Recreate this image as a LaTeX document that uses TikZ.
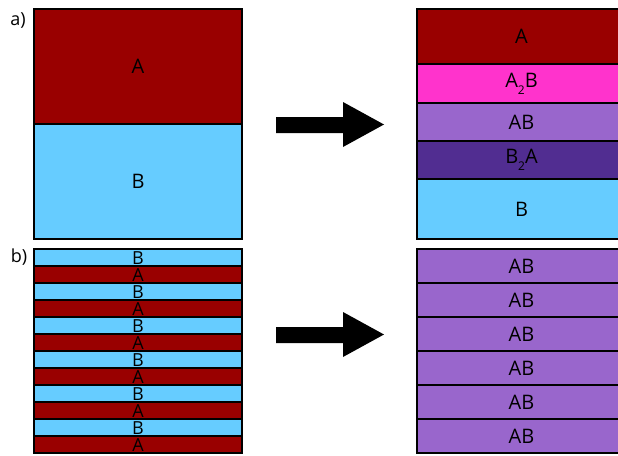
\documentclass[tikz,border=0pt]{standalone}
\usepackage{fontspec}
\setmainfont{Open Sans}
\definecolor{cA}{HTML}{990000}
\definecolor{cB}{HTML}{66CCFF}
\definecolor{cAAB}{HTML}{FF33CC}
\definecolor{cAB}{HTML}{9966CC}
\definecolor{cBBA}{HTML}{512D91}
\newcommand{\subtwo}{\raisebox{-0.35em}{\fontsize{12}{12}\selectfont 2}}
\tikzset{
  layer/.style={draw=black, line width=1.6pt},
  big/.style={font=\fontsize{20}{20}\selectfont, inner sep=0pt},
  small/.style={font=\fontsize{18}{18}\selectfont, inner sep=0pt},
  lab/.style={font=\fontsize{18}{18}\selectfont, inner sep=0pt},
  bigarrow/.style={fill=black, draw=none}
}
\begin{document}
\begin{tikzpicture}[x=1pt,y=-1pt]
\useasboundingbox (0,0) rectangle (618,455);
\clip (0,0) rectangle (618,455);
% labels
\node[lab] (la) at (18,20) {a)};
\node[lab] (lb) at (19,257) {b)};
% panel a left
\draw[layer, fill=cA] (34,9) rectangle (242,124) node[midway, big] (aA) {A};
\draw[layer, fill=cB] (34,124) rectangle (242,239) node[midway, big] (aB) {B};
% panel a right
\draw[layer, fill=cA] (417,9) rectangle (640,64) node[midway, big, xshift=-7pt] (rA) {A};
\draw[layer, fill=cAAB] (417,64) rectangle (640,103) node[midway, big, xshift=-7pt] (rAAB) {A\subtwo B};
\draw[layer, fill=cAB] (417,103) rectangle (640,141) node[midway, big, xshift=-7pt] (rAB) {AB};
\draw[layer, fill=cBBA] (417,141) rectangle (640,179) node[midway, big, xshift=-7pt] (rBBA) {B\subtwo A};
\draw[layer, fill=cB] (417,179) rectangle (640,239) node[midway, big, xshift=-7pt] (rB) {B};
% panel b left
\foreach \i in {0,...,5} {
  \pgfmathsetmacro{\ya}{249+34*\i}
  \pgfmathsetmacro{\yb}{\ya+17}
  \pgfmathsetmacro{\yc}{\ya+34}
  \draw[layer, fill=cB] (34,\ya) rectangle (242,\yb) node[midway, small, yshift=-1pt] (sB\i) {B};
  \draw[layer, fill=cA] (34,\yb) rectangle (242,\yc) node[midway, small, yshift=-1pt] (sA\i) {A};
}
% panel b right
\foreach \i in {0,...,5} {
  \pgfmathsetmacro{\ya}{249+34*\i}
  \pgfmathsetmacro{\yb}{\ya+34}
  \draw[layer, fill=cAB] (417,\ya) rectangle (640,\yb) node[midway, big, xshift=-7pt] (m\i) {AB};
}
% arrows
\fill[bigarrow] (276,117) -- (343,117) -- (343,102) -- (384,124.5) -- (343,147) -- (343,133) -- (276,133) -- cycle;
\fill[bigarrow] (276,327) -- (343,327) -- (343,312) -- (384,334.5) -- (343,357) -- (343,343) -- (276,343) -- cycle;
\end{tikzpicture}
\end{document}
